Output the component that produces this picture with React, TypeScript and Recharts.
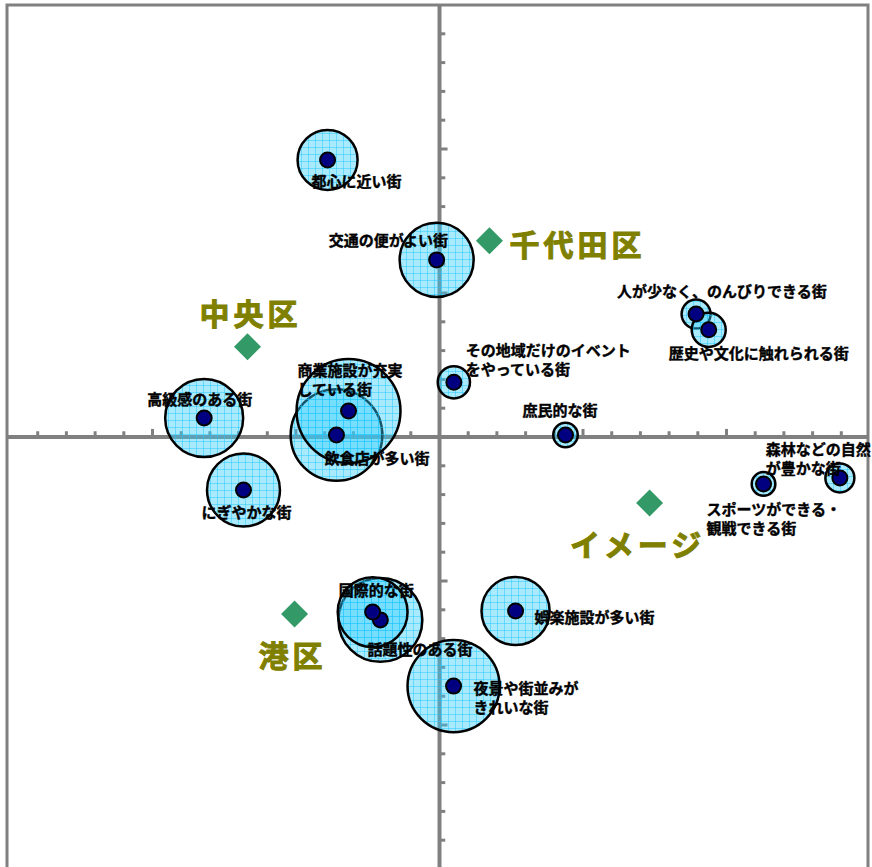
import React from "react";
import {
  ScatterChart,
  Scatter,
  XAxis,
  YAxis,
  ZAxis,
  ReferenceLine,
  ReferenceArea,
} from "recharts";

// bubble labels ("\n" = line break), positions on the two axes, bubble size
const labels = [
  "都心に近い街",
  "交通の便がよい街",
  "人が少なく、のんびりできる街",
  "歴史や文化に触れられる街",
  "その地域だけのイベント\nをやっている街",
  "飲食店が多い街",
  "商業施設が充実\nしている街",
  "高級感のある街",
  "にぎやかな街",
  "庶民的な街",
  "森林などの自然\nが豊かな街",
  "スポーツができる・\n観戦できる街",
  "話題性のある街",
  "国際的な街",
  "娯楽施設が多い街",
  "夜景や街並みが\nきれいな街",
];
const xValues = [-3.9, -0.1, 8.94, 9.38, 0.5, -3.59, -3.17, -8.2, -6.83, 4.39, 13.95, 11.29, -2.06, -2.33, 2.65, 0.49];
const yValues = [9.62, 6.15, 4.27, 3.72, 1.9, 0.07, 0.9, 0.66, -1.84, 0.07, -1.42, -1.63, -6.35, -6.08, -6.04, -8.65];
const sizes = [9, 13.7, 2.1, 2.9, 2.6, 21, 27, 15.2, 13.3, 1.5, 2.1, 1.4, 17.6, 12.2, 11.6, 21.2];

const wardNames = ["千代田区", "中央区", "イメージ", "港区"];
const wardX = [1.74, -6.69, 7.32, -5.05];
const wardY = [6.81, 3.13, -2.29, -6.15];

const axisTicks = [-14, -13, -12, -11, -10, -9, -8, -7, -6, -5, -4, -3, -2, -1, 1, 2, 3, 4, 5, 6, 7, 8, 9, 10, 11, 12, 13, 14];

const bubbleData = labels.map((name, i) => ({ name, x: xValues[i], y: yValues[i], z: sizes[i] }));
const wardData = wardNames.map((name, i) => ({ name, x: wardX[i], y: wardY[i], z: 0 }));

// the vertical axis sits a little right of the frame centre
const xMin = -15.07;
const xMax = 14.93;

// text placement relative to the point: [dx to text start, dy of first line]
const labelOffsets: Record<string, [number, number]> = {
  "都心に近い街": [-16, 21],
  "交通の便がよい街": [-108, -20],
  "人が少なく、のんびりできる街": [-79, -24],
  "歴史や文化に触れられる街": [-40, 23],
  "その地域だけのイベント\nをやっている街": [12, -33],
  "飲食店が多い街": [-12, 23],
  "商業施設が充実\nしている街": [-51, -42],
  "高級感のある街": [-57, -19],
  "にぎやかな街": [-42, 22],
  "庶民的な街": [-43, -25],
  "森林などの自然\nが豊かな街": [-74, -29],
  "スポーツができる・\n観戦できる街": [-57, 25],
  "話題性のある街": [-13, 29],
  "国際的な街": [-34, -23],
  "娯楽施設が多い街": [19, 6],
  "夜景や街並みが\nきれいな街": [20, 1],
};
const wardOffsets: Record<string, [number, number, string]> = {
  "千代田区": [20, 2, "start"],
  "中央区": [3, -35, "middle"],
  "イメージ": [-12, 40, "middle"],
  "港区": [-2, 40, "middle"],
};

const font = '"Noto Sans CJK JP", "Noto Sans", sans-serif';

function Bubble(props: any) {
  const { cx, cy, width } = props;
  if (cx == null || cy == null) return null;
  return (
    <circle cx={cx} cy={cy} r={width / 2} fill="url(#bubbleGrid)" stroke="#000" strokeWidth={2.5} />
  );
}

function Dot(props: any) {
  const { cx, cy, payload } = props;
  if (cx == null || cy == null) return null;
  const [dx, dy] = labelOffsets[payload.name] || [0, 0];
  const lines = String(payload.name).split("\n");
  return (
    <g>
      <circle cx={cx} cy={cy} r={7.5} fill="#000080" stroke="#000" strokeWidth={2} />
      {lines.map((line, i) => (
        <text
          key={i}
          x={cx + dx}
          y={cy + dy + i * 19}
          dominantBaseline="central"
          textAnchor="start"
          stroke="#000"
          strokeWidth={0.4}
          style={{ fontFamily: font, fontSize: 15, fontWeight: 700, fill: "#000" }}
        >
          {line}
        </text>
      ))}
    </g>
  );
}

function Ward(props: any) {
  const { cx, cy, payload } = props;
  if (cx == null || cy == null) return null;
  const [dx, dy, anchor] = wardOffsets[payload.name] || [0, 0, "start"];
  const h = 13.5;
  return (
    <g>
      <path d={`M${cx},${cy - h}L${cx + h},${cy}L${cx},${cy + h}L${cx - h},${cy}Z`} fill="#339966" />
      <text
        x={cx + dx}
        y={cy + dy}
        dominantBaseline="central"
        textAnchor={anchor as any}
        stroke="#808000"
        strokeWidth={1}
        style={{ fontFamily: font, fontSize: 30, fontWeight: 700, fill: "#808000", letterSpacing: 4 }}
      >
        {payload.name}
      </text>
    </g>
  );
}

export default function App() {
  return (
    <div
      style={{
        position: "absolute",
        left: 0,
        top: 0,
        width: 872,
        height: 867,
        overflow: "hidden",
        background: "#fff",
      }}
    >
      <ScatterChart width={872} height={871} margin={{ top: 5, right: 4, bottom: 2, left: 7 }}>
        <defs>
          <pattern id="bubbleGrid" width="7" height="7" patternUnits="userSpaceOnUse">
            <rect width="7" height="7" fill="#33ccff" fillOpacity="0.42" />
            <path d="M0 0.5H7M0.5 0V7" stroke="#19c6ff" strokeOpacity="0.45" strokeWidth="1" />
          </pattern>
        </defs>
        <XAxis type="number" dataKey="x" domain={[xMin, xMax]} hide />
        <YAxis type="number" dataKey="y" domain={[-15, 15]} hide />
        <ZAxis type="number" dataKey="z" domain={[0, 30]} range={[0, 30 * 100 * Math.PI]} />
        <ReferenceArea
          x1={xMin}
          x2={xMax}
          y1={-15}
          y2={15}
          fill="#fff"
          fillOpacity={0}
          stroke="#808080"
          strokeWidth={3}
          ifOverflow="visible"
        />
        <Scatter data={bubbleData} shape={<Bubble />} isAnimationActive={false} />
        <ReferenceLine x={0} stroke="#808080" strokeWidth={4} />
        <ReferenceLine y={0} stroke="#808080" strokeWidth={4} />
        {axisTicks.map((t) => (
          <ReferenceLine
            key={`h${t}`}
            segment={[{ x: t, y: 0 }, { x: t, y: t % 5 === 0 ? 0.28 : 0.2 }]}
            stroke="#808080"
            strokeWidth={3}
          />
        ))}
        {axisTicks.map((t) => (
          <ReferenceLine
            key={`v${t}`}
            segment={[{ x: 0, y: t }, { x: t % 5 === 0 ? 0.28 : 0.2, y: t }]}
            stroke="#808080"
            strokeWidth={3}
          />
        ))}
        <Scatter data={bubbleData} shape={<Dot />} isAnimationActive={false} />
        <Scatter data={wardData} shape={<Ward />} isAnimationActive={false} />
      </ScatterChart>
    </div>
  );
}
